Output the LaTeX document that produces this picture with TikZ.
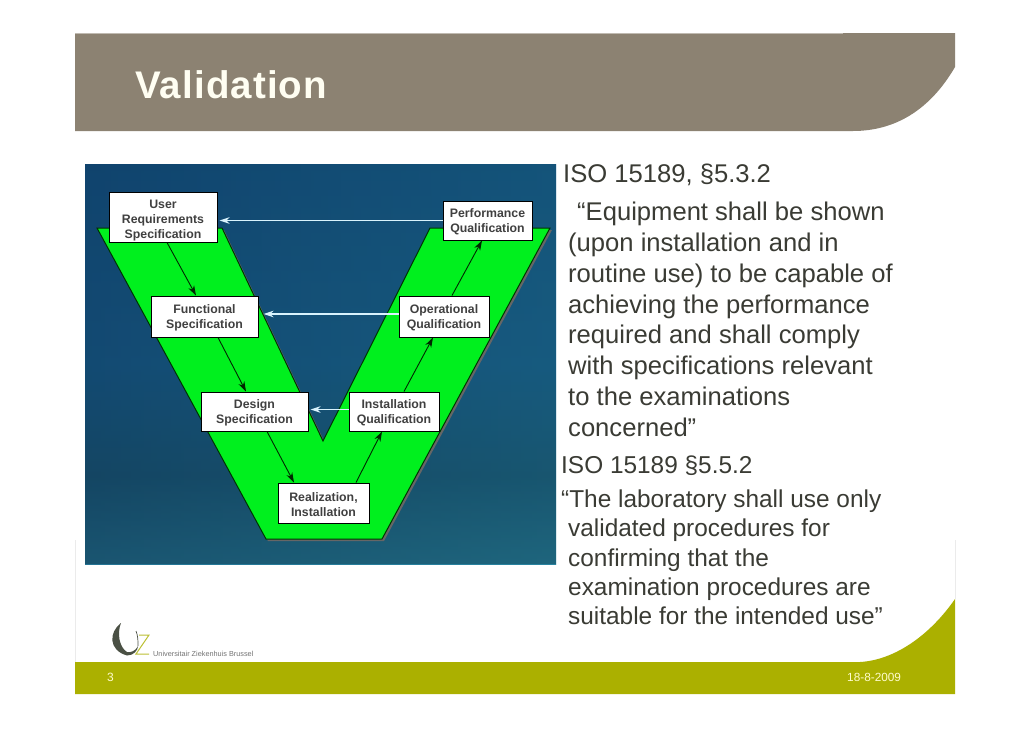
\documentclass[tikz,border=0pt]{standalone}
\usepackage{fontspec}
\setmainfont{Liberation Sans}
\usetikzlibrary{arrows.meta}
\definecolor{headbrown}{HTML}{8C8272}
\definecolor{footolive}{HTML}{ABB000}
\definecolor{vgreen}{HTML}{00F01E}
\definecolor{bodygray}{HTML}{3A3B34}
\definecolor{seatop}{HTML}{175A90}
\definecolor{seamid}{HTML}{1D6A9C}
\definecolor{seaband}{HTML}{1F5F78}
\definecolor{seabot}{HTML}{2E8498}
\definecolor{sealeft}{HTML}{14558C}
\definecolor{searight}{HTML}{2084B0}
\definecolor{logogray}{HTML}{4A5044}
\newcommand{\boxtop}{\rule{0pt}{12pt}}
\pgfdeclareverticalshading{seabg}{100bp}{color(0bp)=(seabot);color(25bp)=(seabot);color(36bp)=(seaband);color(50bp)=(seamid);color(75bp)=(seatop);color(100bp)=(seatop)}
\begin{document}
\begin{tikzpicture}[x=1pt, y=-1pt, >={Stealth[length=10pt, width=6.5pt]},
    vbox/.style={draw=black, line width=1pt, fill=white, inner sep=0pt, align=center, font=\fontsize{12.3}{15}\selectfont\bfseries, text=black!75},
    downarrow/.style={->, line width=.9pt, black!85!green},
    backarrow/.style={->, line width=1.8pt, white!85!cyan},
    bodytext/.style={anchor=base west, inner sep=0pt, text=bodygray, font=\fontsize{25.6}{30}\selectfont},
    smalltext/.style={anchor=base west, inner sep=0pt, text=bodygray, font=\fontsize{24.4}{30}\selectfont}]
\useasboundingbox (0,0) rectangle (1030,728);
\fill[white] (0,0) rectangle (1030,728);
% band at the top and band at the foot
\fill[headbrown] (75,33)--(955,33)--(955,67) .. controls (930,110) and (895,131) .. (853,131)--(75,131)--cycle;
\fill[footolive] (75,662)--(860,662) .. controls (895,660) and (930,635) .. (955,599)--(955,694)--(75,694)--cycle;
\draw[black!8] (75,540)--(75,662) (955,540)--(955,599);
\draw[headbrown!55!white, line width=.6pt] (75,33)--(843,33);
\node[anchor=base west, inner sep=0pt, text=white!95!yellow, font=\fontsize{38.5}{40}\selectfont\bfseries\addfontfeature{LetterSpace=2.9}] (title) at (135,98) {Validation};
\node[anchor=base west, inner sep=0pt, text=white!80!yellow, font=\fontsize{12}{14}\selectfont] (pageno) at (107,681) {3};
\node[anchor=base west, inner sep=0pt, text=white!80!yellow, font=\fontsize{11.8}{14}\selectfont] (datum) at (847,681) {18-8-2009};
% logo
\fill[logogray] (121,623) .. controls (109,632) and (108,650) .. (127,655.5) .. controls (134,655.5) and (138,650) .. (138,646) .. controls (136,651) and (130,653) .. (127,652) .. controls (119,647) and (117,633) .. (121,623);
\draw[logogray, line width=.7pt] (136,631) .. controls (138,636) and (138,640) .. (138,646);
\draw[footolive!80!white, line width=1pt] (139,635)--(149,635)--(136,654)--(149,654);
\node[anchor=base west, inner sep=0pt, text=black!55, font=\fontsize{7.3}{8}\selectfont] (uzname) at (153,656.5) {Universitair Ziekenhuis Brussel};
% picture with the V
\shade[shading=seabg] (85,164) rectangle (556,564);
\fill[left color=sealeft, right color=searight, opacity=.35] (85,164) rectangle (556,564);
\fill[black!60] (99,230)--(224,230)--(325,443)--(432,230)--(552,230)--(384,541)--(268,541)--cycle;
\draw[line width=1pt, fill=vgreen, draw=black!80!green] (97,228)--(222,228)--(323,441)--(430,228)--(550,228)--(382,539)--(266,539)--cycle;
\node[vbox, minimum width=108pt, minimum height=50pt] (userreq) at (163,217) {\rule{0pt}{16pt}User\\Requirements\\Specification};
\node[vbox, minimum width=107pt, minimum height=41pt] (funcspec) at (204.5,316.5) {\boxtop Functional\\Specification};
\node[vbox, minimum width=107pt, minimum height=39pt] (designspec) at (254.5,411.5) {\boxtop Design\\Specification};
\node[vbox, minimum width=91pt, minimum height=40pt] (realinst) at (323.5,503) {\boxtop Realization,\\Installation};
\node[vbox, minimum width=90pt, minimum height=39pt] (instqual) at (394,411.5) {\boxtop Installation\\Qualification};
\node[vbox, minimum width=90pt, minimum height=41pt] (operqual) at (444,316.5) {\boxtop Operational\\Qualification};
\node[vbox, minimum width=89pt, minimum height=39pt] (perfqual) at (487.5,220.5) {\boxtop Performance\\Qualification};
% arrows down the left arm and up the right arm
\draw[downarrow] ([xshift=4pt]userreq.south)--([xshift=-8.5pt]funcspec.north);
\draw[downarrow] ([xshift=13.5pt]funcspec.south)--([xshift=-8.5pt]designspec.north);
\draw[downarrow] ([xshift=12.5pt]designspec.south)--([xshift=-29.5pt]realinst.north);
\draw[downarrow] ([xshift=32.5pt]realinst.north)--([xshift=-12pt]instqual.south);
\draw[downarrow] ([xshift=10pt]instqual.north)--([xshift=-11pt]operqual.south);
\draw[downarrow] ([xshift=8pt]operqual.north)--([xshift=-5.5pt]perfqual.south);
% arrows between the arms
\draw[backarrow, shorten >=2pt] (perfqual.west)--(perfqual.west-|userreq.east);
\draw[backarrow, shorten >=5pt] ([yshift=2.5pt]operqual.west)--([yshift=2.5pt]funcspec.east);
\draw[backarrow, shorten >=2pt] ([yshift=2pt]instqual.west)--([yshift=2pt]designspec.east);
% text on the right
\foreach \nr/\tx/\ty/\ttext in {
    1/563/182/{ISO 15189, §5.3.2},
    2/577/220/{“Equipment shall be shown},
    3/568/251/{(upon installation and in},
    4/568/282/{routine use) to be capable of},
    5/568/313/{achieving the performance},
    6/568/343/{required and shall comply},
    7/568/374/{with specifications relevant},
    8/568/405/{to the examinations},
    9/568/436/{concerned”}}
    \node[bodytext] (line\nr) at (\tx,\ty) {\ttext};
\foreach \nr/\tx/\ty/\ttext in {
    10/561/473/{ISO 15189 §5.5.2},
    11/561/507/{“The laboratory shall use only},
    12/568/536/{validated procedures for},
    13/568/566/{confirming that the},
    14/568/595/{examination procedures are},
    15/568/624/{suitable for the intended use”}}
    \node[smalltext] (line\nr) at (\tx,\ty) {\ttext};
\end{tikzpicture}
\end{document}
